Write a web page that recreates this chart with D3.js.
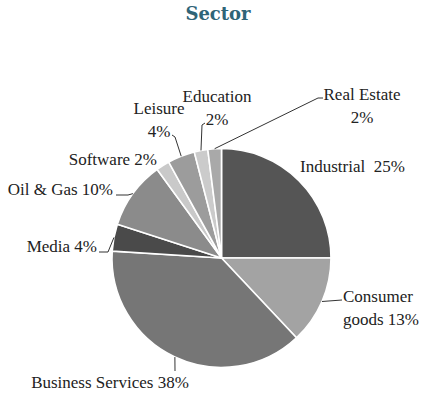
<!DOCTYPE html>
<html>
<head>
<meta charset="utf-8">
<script src="https://cdnjs.cloudflare.com/ajax/libs/d3/7.8.5/d3.min.js"></script>
<style>
  body { margin: 0; background: #fff; }
  text { font-family: "Liberation Serif", serif; font-size: 17px; fill: #222; white-space: pre; }
</style>
</head>
<body>
<div id="chart-area"></div>
<script>
//chart data
let sectors = ["Industrial", "Consumer goods", "Business Services", "Media", "Oil & Gas",
               "Software", "Leisure", "Education", "Real Estate"];
let shares = [25, 13, 38, 4, 10, 2, 4, 2, 2];
let labelLines = [
  ["Industrial  25%"],
  ["Consumer", "goods 13%"],
  ["Business Services 38%"],
  ["Media 4%"],
  ["Oil & Gas 10%"],
  ["Software 2%"],
  ["Leisure", "4%"],
  ["Education", "2%"],
  ["Real Estate", "2%"]
];
let sliceColors = ["#555555", "#a3a3a3", "#767676", "#4a4a4a", "#8b8b8b",
                   "#c9c9c9", "#9c9c9c", "#cbcbcb", "#a9a9a9"];

//layout
let width = 430;
let height = 397;
let cx = 221.5;
let cy = 258;
let radius = 109.5;

//label placement (text x, first baseline, anchor, leader bends)
let labelLayout = [
  { x: 300, y: 172, anchor: "start", bends: [] },
  { x: 343, y: 302, anchor: "start", bends: [[342, 300]] },
  { x: 110, y: 388, anchor: "middle", bends: [[175, 371]] },
  { x: 97, y: 252, anchor: "end", bends: [[108, 252], [99, 252]] },
  { x: 113, y: 195, anchor: "end", bends: [[128, 195], [116, 195]] },
  { x: 157, y: 165, anchor: "end", bends: [] },
  { x: 159, y: 114, anchor: "middle", bends: [[175, 137], [172, 135]] },
  { x: 217, y: 102, anchor: "middle", bends: [[202, 125], [205, 123]] },
  { x: 362, y: 100, anchor: "middle", bends: [[318, 98], [323, 98]] }
];
let lineGap = 23;

//build canvas
let svg = d3.select("#chart-area")
        .append("svg")
        .attr("width", width)
        .attr("height", height);

//title
svg.append("text")
   .attr("x", 218)
   .attr("y", 20)
   .style("text-anchor", "middle")
   .style("font-family", "'DejaVu Serif', serif")
   .style("font-size", "18px")
   .style("font-weight", "bold")
   .style("fill", "#2f6477")
   .text("Sector");

let pie = d3.pie().sort(null).value(d => d);
let arcs = pie(shares);

let arc = d3.arc().innerRadius(0).outerRadius(radius);

let pieGroup = svg.append("g")
        .attr("transform", "translate(" + cx + "," + cy + ")");

pieGroup.selectAll("path")
        .data(arcs)
        .enter()
        .append("path")
        .attr("d", arc)
        .attr("fill", (d, i) => sliceColors[i])
        .attr("stroke", "#fff")
        .attr("stroke-width", 1.6);

//leader lines start at the middle of each slice's outer edge
arcs.forEach(function(d, i){
  let layout = labelLayout[i];
  if(layout.bends.length > 0){
    let midAngle = (d.startAngle + d.endAngle) / 2;
    let startPoint = [cx + radius * Math.sin(midAngle), cy - radius * Math.cos(midAngle)];
    let points = [startPoint].concat(layout.bends);
    svg.append("path")
       .attr("d", d3.line()(points))
       .attr("fill", "none")
       .attr("stroke", "#333")
       .attr("stroke-width", 1);
  }

  let textEle = svg.append("text")
        .attr("x", layout.x)
        .attr("y", layout.y)
        .style("text-anchor", layout.anchor);
  labelLines[i].forEach(function(line, j){
    textEle.append("tspan")
           .attr("x", layout.x)
           .attr("y", layout.y + j * lineGap)
           .text(line);
  });
});
</script>
</body>
</html>
